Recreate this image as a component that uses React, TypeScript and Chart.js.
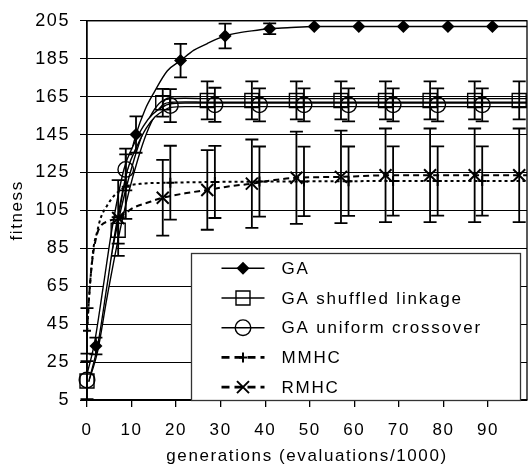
import React, { useEffect, useRef } from "react";
import { Chart, registerables } from "chart.js";

Chart.register(...registerables);

const FONT = '"Liberation Sans", Arial, sans-serif';

const X_MIN = 0;
const X_MAX = 98.75;
const X_STEP = 10;
const Y_MIN = 5;
const Y_MAX = 205;
const Y_STEP = 20;

const X_TITLE = "generations (evaluations/1000)";
const Y_TITLE = "fitness";

const SERIES_NAMES = ["GA", "GA shuffled linkage", "GA uniform crossover", "MMHC", "RMHC"];

// GA (diamonds)
const GA_LINE_X = [0, 2, 4, 6, 7, 9, 11, 13, 15, 18, 21, 24, 27, 29.5, 31, 34, 37, 41, 45, 51, 61, 71, 81, 91, 98.75];
const GA_LINE_Y = [15, 33.5, 61, 88, 101, 126, 145, 158, 167, 178.5, 184, 189.5, 193, 195.7, 197, 198.6, 199.7, 200.8, 201.3, 202, 202, 202, 202, 202, 202];
const GA_MARK_X = [2, 11, 21, 31, 41, 51, 61, 71, 81, 91];
const GA_MARK_Y = [33.5, 145, 184, 197, 200.8, 202, 202, 202, 202, 202];
const GA_ERR = [4.4, 9.6, 8.8, 6.5, 2.8, 0, 0, 0, 0, 0];

// GA shuffled linkage (squares)
const SHUF_LINE_X = [0, 2, 4, 7, 9, 11, 13, 15, 17, 19, 22, 27, 37, 47, 57, 67, 77, 87, 97, 98.75];
const SHUF_LINE_Y = [15, 31, 58, 94.5, 115, 132, 146, 156, 161.8, 163, 163.2, 163, 163, 163, 163, 163, 163, 163, 163, 163];
const SHUF_MARK_X = [0, 7, 17, 27, 37, 47, 57, 67, 77, 87, 97];
const SHUF_MARK_Y = [15, 94.5, 161.8, 163, 163, 163, 163, 163, 163, 163, 163];
const SHUF_ERR = [0, 7, 7.3, 10, 10, 10, 10, 10, 10, 10, 10];

// GA uniform crossover (circles)
const UNIF_LINE_X = [0, 2, 4, 6, 8.7, 11, 13, 15, 17, 18.7, 22, 28.7, 38.7, 48.7, 58.7, 68.7, 78.7, 88.7, 98.75];
const UNIF_LINE_Y = [15, 34, 64, 95, 126.6, 140, 149, 155, 158.5, 160.3, 160.7, 160.7, 160.7, 160.7, 160.7, 160.7, 160.7, 160.7, 160.7];
const UNIF_MARK_X = [0, 8.7, 18.7, 28.7, 38.7, 48.7, 58.7, 68.7, 78.7, 88.7];
const UNIF_MARK_Y = [15.5, 126.6, 160.3, 160.7, 160.7, 160.7, 160.7, 160.7, 160.7, 160.7];
const UNIF_ERR = [10, 11, 8.7, 9, 8.7, 8.7, 8.7, 8.7, 8.7, 8.7];

// MMHC (plus)
const MMHC_LINE_X = [0, 0.5, 1, 1.5, 2.2, 3, 4.5, 6, 8.7, 12, 18.7, 28.7, 38.7, 48.7, 58.7, 68.7, 78.7, 88.7, 98.75];
const MMHC_LINE_Y = [41.5, 60, 75, 86, 93, 100.5, 107.5, 112.5, 117.5, 119, 119.6, 120, 120.2, 120.3, 120.4, 120.5, 120.5, 120.5, 120.5];
const MMHC_MARK_X = [0, 8.7, 18.7, 28.7, 38.7, 48.7, 58.7, 68.7, 78.7, 88.7];
const MMHC_MARK_Y = [41.5, 117.5, 119.6, 120, 120.2, 120.3, 120.4, 120.5, 120.5, 120.5];
const MMHC_ERR = [12, 17, 19.5, 19, 18.5, 18.3, 18.3, 18.3, 18.3, 18.3];

// RMHC (x)
const RMHC_LINE_X = [0, 0.4, 1.1, 2.2, 3, 5, 7, 10.5, 13.5, 17, 22, 27, 32, 37, 42, 47, 57, 67, 77, 87, 97, 98.75];
const RMHC_LINE_Y = [40, 57, 77, 92, 96.5, 99.5, 101, 106.5, 109, 111.7, 114, 115.8, 117.7, 119.1, 121, 122.2, 122.7, 123.5, 123.5, 123.5, 123.5, 123.5];
const RMHC_MARK_X = [7, 17, 27, 37, 47, 57, 67, 77, 87, 97];
const RMHC_MARK_Y = [101, 111.7, 115.8, 119.1, 122.2, 122.7, 123.5, 123.5, 123.5, 123.5];
const RMHC_ERR = [20, 20, 21, 23.3, 24.3, 24.4, 24.7, 24.7, 24.7, 24.7];

const zip = (xs: number[], ys: number[]) => xs.map((x, i) => ({ x, y: ys[i] }));

type Sty = { marker: string; dash: number[]; double: boolean };
const STYLES: Sty[] = [
  { marker: "diamond", dash: [], double: false },
  { marker: "square", dash: [], double: true },
  { marker: "circle", dash: [], double: true },
  { marker: "plus", dash: [3, 3], double: false },
  { marker: "x", dash: [6, 4], double: false },
];

function drawMarker(ctx: CanvasRenderingContext2D, kind: string, x: number, y: number) {
  ctx.save();
  ctx.strokeStyle = "#000";
  ctx.fillStyle = "#000";
  ctx.lineWidth = 1.4;
  ctx.setLineDash([]);
  ctx.beginPath();
  if (kind === "diamond") {
    ctx.moveTo(x, y - 6.5);
    ctx.lineTo(x + 6.5, y);
    ctx.lineTo(x, y + 6.5);
    ctx.lineTo(x - 6.5, y);
    ctx.closePath();
    ctx.fill();
  } else if (kind === "square") {
    ctx.rect(x - 7, y - 7, 14, 14);
    ctx.stroke();
  } else if (kind === "circle") {
    ctx.arc(x, y, 7.8, 0, Math.PI * 2);
    ctx.stroke();
  } else if (kind === "plus") {
    ctx.lineWidth = 2;
    ctx.moveTo(x - 4, y);
    ctx.lineTo(x + 4, y);
    ctx.moveTo(x, y - 5);
    ctx.lineTo(x, y + 5);
    ctx.stroke();
  } else if (kind === "x") {
    ctx.lineWidth = 2;
    ctx.moveTo(x - 6, y - 6);
    ctx.lineTo(x + 6, y + 6);
    ctx.moveTo(x + 6, y - 6);
    ctx.lineTo(x - 6, y + 6);
    ctx.stroke();
  }
  ctx.restore();
}

const spacingPlugin = {
  id: "spacing",
  beforeUpdate(chart: any) {
    (chart.ctx as any).letterSpacing = "1.6px";
  },
  beforeDraw(chart: any) {
    (chart.ctx as any).letterSpacing = "1.6px";
  },
};

const errorBarPlugin = {
  id: "errorBars",
  afterDatasetsDraw(chart: any) {
    const ctx = chart.ctx as CanvasRenderingContext2D;
    const ys = chart.scales.y;
    const xs = chart.scales.x;
    chart.data.datasets.forEach((ds: any) => {
      if (!ds.errors) return;
      ctx.save();
      ctx.strokeStyle = "#000";
      ctx.lineWidth = 1.8;
      ctx.setLineDash([]);
      ds.data.forEach((p: any, i: number) => {
        const e = ds.errors[i];
        if (!e) return;
        const px = xs.getPixelForValue(p.x);
        const top = ys.getPixelForValue(Math.min(p.y + e, Y_MAX));
        const bot = ys.getPixelForValue(Math.max(p.y - e, Y_MIN));
        ctx.beginPath();
        ctx.moveTo(px, top);
        ctx.lineTo(px, bot);
        if (p.y + e <= Y_MAX) {
          ctx.moveTo(px - 6.5, top);
          ctx.lineTo(px + 6.5, top);
        }
        if (p.y - e >= Y_MIN) {
          ctx.moveTo(px - 6.5, bot);
          ctx.lineTo(px + 6.5, bot);
        }
        ctx.stroke();
      });
      ctx.restore();
    });
    chart.data.datasets.forEach((ds: any) => {
      if (!ds.markerKind) return;
      ds.data.forEach((p: any) => {
        if (p.x > X_MAX) return;
        drawMarker(ctx, ds.markerKind, xs.getPixelForValue(p.x), ys.getPixelForValue(p.y));
      });
    });
  },
};

const framePlugin = {
  id: "frame",
  afterDraw(chart: any) {
    const ctx = chart.ctx as CanvasRenderingContext2D;
    const a = chart.chartArea;
    ctx.save();
    ctx.strokeStyle = "#000";
    ctx.lineWidth = 1.3;
    ctx.setLineDash([]);
    ctx.strokeRect(a.left, a.top, a.right - a.left, a.bottom - a.top);
    ctx.restore();
  },
};

const legendPlugin = {
  id: "customLegend",
  afterDraw(chart: any) {
    const ctx = chart.ctx as CanvasRenderingContext2D;
    const boxL = 191.5, boxT = 253.5, boxR = 520.5, boxB = 400.5;
    ctx.save();
    ctx.fillStyle = "#fff";
    ctx.fillRect(boxL, boxT, boxR - boxL, boxB - boxT);
    ctx.strokeStyle = "#333";
    ctx.lineWidth = 1.3;
    ctx.strokeRect(boxL, boxT, boxR - boxL, boxB - boxT);
    const y0 = 268.3;
    const dy = 29.7;
    SERIES_NAMES.forEach((name, i) => {
      const y = y0 + i * dy;
      const st = STYLES[i];
      ctx.save();
      ctx.strokeStyle = "#000";
      ctx.lineWidth = st.dash.length ? 2.6 : 1.4;
      ctx.setLineDash(st.dash.length ? [8, 5] : []);
      ctx.beginPath();
      ctx.moveTo(221.5, y);
      ctx.lineTo(264.5, y);
      ctx.stroke();
      ctx.restore();
      drawMarker(ctx, st.marker, 243, y);
      ctx.fillStyle = "#000";
      ctx.font = `17px ${FONT}`;
      (ctx as any).letterSpacing = "1.8px";
      ctx.textBaseline = "middle";
      ctx.textAlign = "left";
      ctx.fillText(name, 281.5, y + 1);
    });
    ctx.restore();
  },
};

function lineDs(xs: number[], ys: number[], dash: number[], width: number, color = "#000") {
  return {
    data: zip(xs, ys),
    borderColor: color,
    borderWidth: width,
    borderDash: dash,
    pointRadius: 0,
    pointHoverRadius: 0,
    fill: false,
    showLine: true,
    tension: 0.4,
    cubicInterpolationMode: "monotone" as const,
  };
}

function markDs(xs: number[], ys: number[], errs: number[], kind: string) {
  return {
    data: zip(xs, ys),
    errors: errs,
    markerKind: kind,
    showLine: false,
    pointRadius: 0,
    pointHoverRadius: 0,
    borderColor: "#000",
  };
}

export default function App() {
  const ref = useRef<HTMLCanvasElement | null>(null);
  useEffect(() => {
    if (!ref.current) return;
    const datasets: any[] = [
      lineDs(GA_LINE_X, GA_LINE_Y, [], 1.4),
      lineDs(SHUF_LINE_X, SHUF_LINE_Y, [], 5),
      lineDs(SHUF_LINE_X, SHUF_LINE_Y, [], 2.2, "#fff"),
      lineDs(UNIF_LINE_X, UNIF_LINE_Y, [], 5),
      lineDs(UNIF_LINE_X, UNIF_LINE_Y, [], 2.2, "#fff"),
      lineDs(MMHC_LINE_X, MMHC_LINE_Y, STYLES[3].dash, 2),
      lineDs(RMHC_LINE_X, RMHC_LINE_Y, STYLES[4].dash, 2),
      markDs(GA_MARK_X, GA_MARK_Y, GA_ERR, "diamond"),
      markDs(SHUF_MARK_X, SHUF_MARK_Y, SHUF_ERR, "square"),
      markDs(UNIF_MARK_X, UNIF_MARK_Y, UNIF_ERR, "circle"),
      markDs(MMHC_MARK_X, MMHC_MARK_Y, MMHC_ERR, "plus"),
      markDs(RMHC_MARK_X, RMHC_MARK_Y, RMHC_ERR, "x"),
    ];
    datasets.forEach((d, i) => (d.order = datasets.length - i));
    const chart = new Chart(ref.current, {
      type: "scatter",
      data: { datasets },
      options: {
        responsive: false,
        animation: false,
        events: [],
        layout: { padding: { top: 19, right: 1, left: 0, bottom: 0 } },
        plugins: { legend: { display: false }, tooltip: { enabled: false } },
        scales: {
          x: {
            type: "linear",
            min: X_MIN,
            max: X_MAX,
            ticks: {
              stepSize: X_STEP,
              includeBounds: false,
              color: "#000",
              font: { size: 17, family: FONT },
              padding: 13,
              maxRotation: 0,
            },
            grid: { drawOnChartArea: false, drawTicks: true, tickLength: 7, color: "#000", lineWidth: 1.3 },
            border: { color: "#000", width: 1.3 },
            title: {
              display: true,
              text: X_TITLE,
              color: "#000",
              font: { size: 17, family: FONT, lineHeight: 1 },
              padding: { top: 0, bottom: 0 },
            },
            afterFit: (s: any) => {
              s.height = 65;
            },
          },
          y: {
            type: "linear",
            min: Y_MIN,
            max: Y_MAX,
            ticks: {
              stepSize: Y_STEP,
              color: "#000",
              font: { size: 18, family: FONT },
              padding: 10,
            },
            grid: { drawTicks: true, tickLength: 7, color: "#000", lineWidth: 1 },
            border: { color: "#000", width: 1.3 },
            title: {
              display: true,
              text: Y_TITLE,
              color: "#000",
              font: { size: 17, family: FONT, lineHeight: 1 },
              padding: { top: 8.5, bottom: 0 },
            },
            afterFit: (s: any) => {
              s.width = 87;
            },
          },
        },
      } as any,
      plugins: [spacingPlugin, errorBarPlugin, framePlugin, legendPlugin],
    });
    return () => chart.destroy();
  }, []);
  return (
    <div style={{ position: "absolute", left: 0, top: 0, width: 528, height: 465, background: "#fff" }}>
      <canvas ref={ref} width={528} height={465} style={{ width: 528, height: 465, display: "block" }} />
    </div>
  );
}
